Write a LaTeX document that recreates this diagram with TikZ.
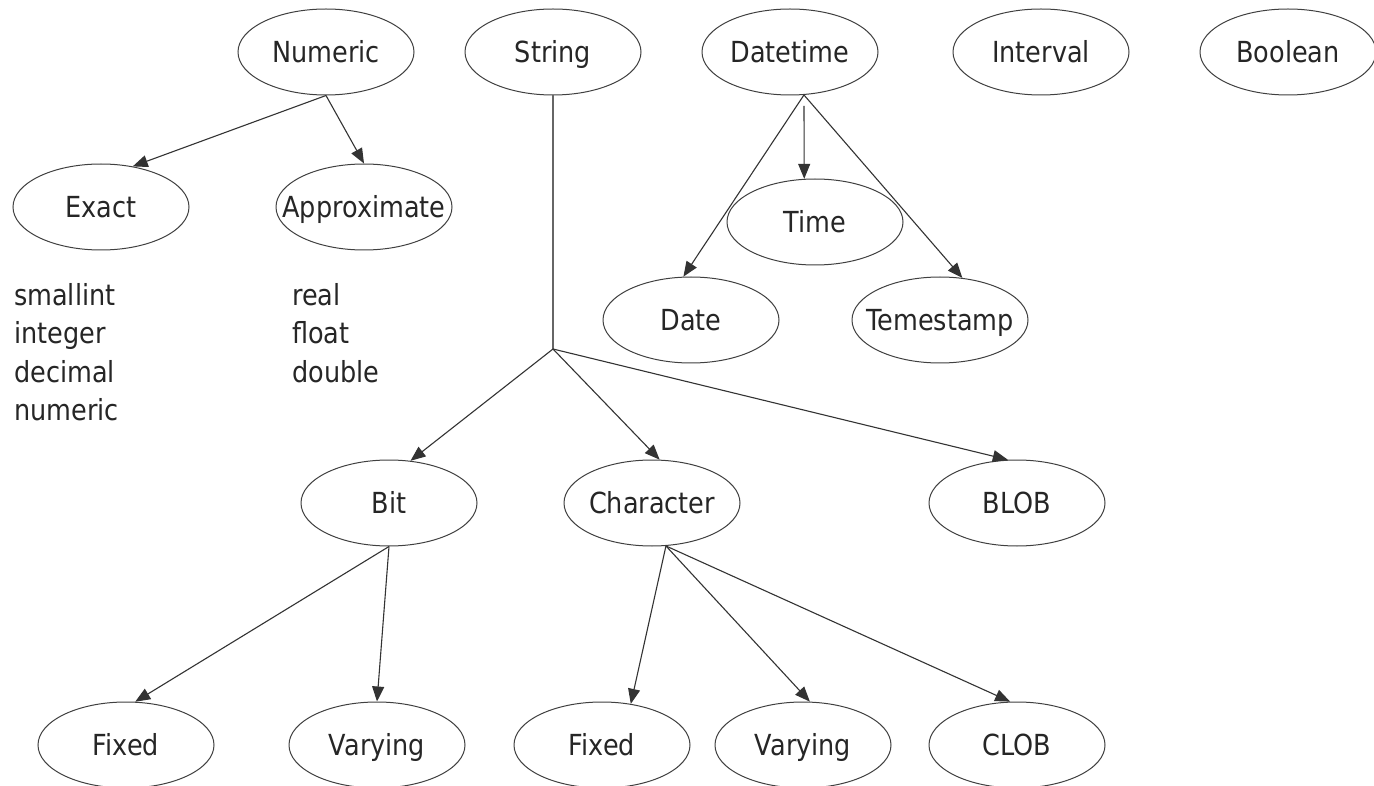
\documentclass[tikz,border=0pt]{standalone}
\usepackage{fontspec}
\setmainfont{DejaVu Sans}[FakeStretch=0.88]
\usetikzlibrary{arrows.meta,shapes.geometric}
\tikzset{
  tnode/.style={ellipse, draw=black!75, line width=1pt, minimum width=176pt, minimum height=86pt,
    inner sep=0pt, text height=21pt, text depth=0pt, font=\fontsize{29}{33}\selectfont, text=black!85},
  lst/.style={anchor=base west, inner sep=0pt, font=\fontsize{29}{33}\selectfont, text=black!85},
  conn/.style={draw=black!80, line width=1.1pt, -{Triangle[length=15pt,width=12pt]}},
  plain/.style={draw=black!60, line width=1.1pt}
}
\newcommand{\lbl}[1]{\makebox[0pt]{#1}}
\begin{document}
\begin{tikzpicture}[x=1pt,y=-1pt]
\useasboundingbox[fill=white] (0,0) rectangle (1374,786);
% top row
\node[tnode] (numeric) at (326,52) {\lbl{Numeric}};
\node[tnode] (string) at (553,52) {\lbl{String}};
\node[tnode] (datetime) at (790,52) {\lbl{Datetime}};
\node[tnode] (interval) at (1041,52) {\lbl{Interval}};
\node[tnode] (boolean) at (1288,52) {\lbl{Boolean}};
% numeric children
\node[tnode] (exact) at (101,207) {\lbl{Exact}};
\node[tnode] (approx) at (364,207) {\lbl{Approximate}};
% datetime children
\node[tnode] (time) at (815,222) {\lbl{Time}};
\node[tnode] (date) at (691,320) {\lbl{Date}};
\node[tnode] (tstamp) at (940,320) {\lbl{Temestamp}};
% string children
\node[tnode] (bit) at (389,503) {\lbl{Bit}};
\node[tnode] (char) at (652,503) {\lbl{Character}};
\node[tnode] (blob) at (1017,503) {\lbl{BLOB}};
% leaves
\node[tnode] (bfixed) at (126,745) {\lbl{Fixed}};
\node[tnode] (bvary) at (377,745) {\lbl{Varying}};
\node[tnode] (cfixed) at (602,745) {\lbl{Fixed}};
\node[tnode] (cvary) at (803,745) {\lbl{Varying}};
\node[tnode] (clob) at (1017,745) {\lbl{CLOB}};
% type lists
\node[lst] (l1) at (14,306) {smallint};
\node[lst] (l2) at (14,344) {integer};
\node[lst] (l3) at (14,382) {decimal};
\node[lst] (l4) at (14,420) {numeric};
\node[lst] (r1) at (292,306) {real};
\node[lst] (r2) at (292,344) {float};
\node[lst] (r3) at (292,382) {double};
% connectors
\coordinate (junc) at (553,349);
\draw[conn] (numeric.south) -- (exact.52);
\draw[conn] (numeric.south) -- (approx.north);
\draw[conn] (datetime.-72) -- (date.100);
\draw[conn, shorten <=11pt] (datetime.-72) -- (time.104);
\draw[conn] (datetime.-72) -- (tstamp.62);
\draw[plain] (string.south) -- (junc);
\draw[conn] (junc) -- (bit.63);
\draw[conn] (junc) -- (char.80);
\draw[conn] (junc) -- (blob.102);
\draw[conn] (bit.south) -- (bfixed.78);
\draw[conn] (bit.south) -- (bvary.north);
\draw[conn] (char.-72) -- (cfixed.55);
\draw[conn] (char.-72) -- (cvary.81);
\draw[conn] (char.-72) -- (clob.99);
\end{tikzpicture}
\end{document}
